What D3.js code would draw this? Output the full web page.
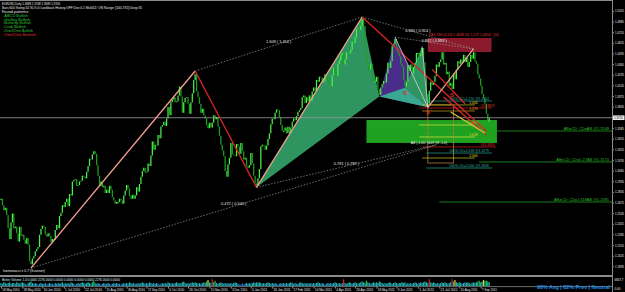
<!DOCTYPE html>
<html><head><meta charset="utf-8">
<script src="https://cdn.jsdelivr.net/npm/d3@7"></script>
<style>
html,body{margin:0;padding:0;background:#000;overflow:hidden}
svg{display:block}
text{font-family:"Liberation Sans",Arial,sans-serif}
</style></head><body><svg id="c" width="625" height="292"></svg>
<script>
// ---- daily closes (bar index 0 = 18 May 2010) ----
const closesMayJun2010 = [1.2720,1.2640,1.2580,1.2610,1.2520,1.2360,1.2230,1.2430,1.2540,1.2360,1.2380,1.2300,1.2200,1.2380,1.2270,1.2280,1.2220,1.2170,1.2240,1.2160,1.1960,1.1920];
const closesJunNov2010 = [1.1990,1.2020,1.2080,1.2110,1.2130,1.2280,1.2350,1.2390,1.2380,1.2280,1.2260,1.2300,1.2270,1.2190,1.2230,1.2220,1.2340,1.2400,1.2360,
 1.2510,1.2550,1.2640,1.2620,1.2680,1.2720,1.2630,1.2780,1.2760,1.2930,1.2950,1.2960,1.2880,1.2890,1.2930,1.2940,1.3000,1.2990,1.2970,1.3050,
 1.3120,1.3210,1.3200,1.3260,1.3300,1.3270,1.3130,1.3000,1.2880,1.2930,1.2860,1.2880,
 1.2790,1.2830,1.2790,1.2880,1.2830,1.2740,1.2700,1.2660,1.2680,1.2680,1.2720,1.2700,1.2660,1.2760,1.2820,1.2890,1.2850,1.2750,1.2720,1.2770,1.2720,1.2760,1.2860,1.2810,1.2900,1.2990,1.3060,1.3100,
 1.3040,1.3050,1.3150,1.3120,1.3250,1.3420,1.3320,1.3380,1.3370,1.3500,1.3460,1.3600,1.3620,1.3660,1.3610,1.3700,
 1.3840,1.3740,1.3900,1.3930,1.3960,1.3900,1.3910,1.3980,1.4090,1.3970,1.3770,1.3900,1.3950,1.3960,1.3880,1.3760,1.3900,1.4010,1.4170,
 1.4240];
const closesNovJan = [1.4030,1.3960,1.3880,1.3770,1.3820,1.3740,1.3700,1.3620,1.3580,1.3650,1.3590,1.3650,1.3740,1.3690,1.3720,
 1.3600,1.3490,1.3380,1.3310,1.3240,1.3060,1.2990,1.3140,1.3220,
 1.3400,1.3260,1.3250,1.3240,1.3390,1.3360,1.3270,1.3400,1.3300,1.3200,1.3220,1.3120,1.3100,1.3130,
 1.3280,1.3150,1.3000,1.2910,1.2880];
const closesJanMay2011 = [1.2970,1.3080,1.3360,1.3380,1.3370,1.3320,1.3370,1.3450,1.3520,1.3630,1.3700,1.3690,1.3770,1.3810,
 1.3800,1.3720,1.3620,1.3550,1.3550,1.3590,1.3520,1.3600,1.3520,1.3590,1.3660,
 1.3700,1.3680,1.3730,1.3780,1.3800,1.3830,1.3960,1.3980,1.3890,1.3960,
 1.3910,1.3980,1.3920,1.4030,1.4080,1.4040,1.4170,1.4150,1.4210,1.4200,1.4140,
 1.4160,1.4240,1.4180,1.4160,1.4120,1.4090,1.4230,1.4320,1.4250,1.4220,1.4370,1.4410,1.4470,1.4500,1.4360,1.4420,1.4510,1.4490,1.4500,
 1.4540,1.4640,1.4620,1.4690,1.4790,1.4800,1.4780,1.4830,1.4920];
const closesMaySep2011 = [1.4830,1.4520,1.4380,1.4350,1.4300,1.4370,1.4200,1.4140,1.4150,1.4210,1.4060,1.3990,
 1.4080,1.4120,1.4160,1.4140,1.4250,1.4380,1.4320,1.4400,1.4590,1.4610,1.4670,
 1.4580,1.4500,1.4460,1.4370,1.4330,1.4170,1.4090,
 1.4150,1.4350,1.4280,1.4360,1.4250,1.4330,1.4380,1.4500,1.4500,1.4460,1.4490,1.4560,
 1.4390,1.4220,1.4000,1.3880,
 1.4040,1.4150,1.4110,1.4150,1.4220,1.4360,1.4330,1.4390,1.4420,1.4510,
 1.4360,1.4380,1.4240,1.4270,1.4100,1.4130,1.4060,
 1.4250,1.4180,1.4300,1.4400,1.4370,1.4420,1.4380,1.4480,1.4390,1.4450,1.4330,1.4390,1.4480,1.4430,1.4510,
 1.4400,1.4370,1.4240,1.4190,1.4100,1.4000,1.3950,1.3880,1.3760,1.3660,1.3710];
const closes = [].concat(closesMayJun2010, closesJunNov2010, closesNovJan, closesJanMay2011, closesMaySep2011);

const volumes = [4,3,5,4,3,4,5,3,4,4,3,5,4,3,4,5,4,3,2,4, 5,6,4,3,4,3,2,3,4,3,3,4,2,3,4,3,3,2,4,3,
 4,3,4,5,3,4,3,4,3,5,4,3,2,3,4,3,4,5,4,3, 4,5,4,3,5,7,4,3,4,3,2,3,4,3,3,4,3,2,3,4,
 3,4,3,3,2,3,4,3,4,3,5,4,3,4,3,3,4,3,4,5, 4,3,4,3,5,4,3,4,3,4,3,2,3,4,3,4,3,5,4,3,
 4,3,4,5,4,3,4,5,6,4,3,4,3,4,5,4,5,4,3,4, 3,4,5,4,6,8,5,4,9,5,7,4,3,4,5,4,3,4,3,4,
 3,4,3,4,5,4,3,2,2,3,2,3,4,3,4,3,4,5,4,5, 4,5,4,3,4,3,4,5,4,3,4,3,4,3,2,3,4,3,4,3,
 4,3,4,5,4,3,4,3,3,4,5,4,3,4,3,4,3,4,3,4, 3,4,5,4,3,4,3,2,3,4,3,4,3,4,5,4,3,4,3,4,
 9,4,3,4,5,4,3,4,5,4,3,4,5,6,5,4,7,5,4,3, 4,5,4,5,4,6,5,4,3,4,3,4,5,4,3,4,5,4,3,4,
 4,5,4,5,3,4,3,4,3,4,5,4,3,4,5,4,5,6,5,4, 9,5,4,5,4,3,4,3,4,5,4,5,4,3,4,5,9,6,8,5,
 4,5,4,3,4,5,4,5,4,3,4,5,4,5,6,7,5,6,8,7, 7,6,5];

// swing points [bar index, price]
const pivots = [[21,1.1875],[136,1.4281],[179,1.2860],[253,1.4940],[265,1.3968],[276,1.4695],[283,1.4075],[295,1.4579],[299,1.3837],[309,1.4537],[316,1.4050],[331,1.4550],[340,1.3660]];
const priceTicks = [1.5015,1.4885,1.4755,1.4625,1.4495,1.4365,1.4235,1.4105,1.3975,1.3845,1.3585,1.3455,1.3325,1.3195,1.3065,1.2935,1.2805,1.2675,1.2545,1.2415,1.2285,1.2155,1.2025,1.1895];
const dateTickIdx = [0,15,29,44,58,73,88,102,117,131,146,161,175,190,204,219,234,248,263,277,292,307,321,336];
const dateTickLabels = ["18 May 2010","28 May 2010","10 Jun 2010","1 Jul 2010","22 Jul 2010","11 Aug 2010","30 Aug 2010","17 Sep 2010","6 Oct 2010","26 Oct 2010","15 Nov 2010","3 Dec 2010","4 Jan 2011","26 Jan 2011","17 Feb 2011","14 Mar 2011","4 Apr 2011","26 Apr 2011","18 May 2011","9 Jun 2011","1 Jul 2011","21 Jul 2011","10 Aug 2011","7 Sep 2011"];
const currentPrice = 1.3710;

const patternFills = [
 {pts:[[179,1.2860],[253,1.4940],[265,1.3968]], fill:"#2e9460"},
 {pts:[[265,1.3968],[276,1.4695],[299,1.3837]], fill:"#4a2c8a"},
 {pts:[[283,1.4075],[295,1.4579],[299,1.3837]], fill:"#2e9460"},
 {pts:[[265,1.3968],[283,1.4075],[299,1.3837]], fill:"#3aa890"}
];
const zigzagLegs = [[21,1.1875,136,1.4281,"#f2a090"],[136,1.4281,179,1.2860,"#dc2626"],[179,1.2860,253,1.4940,"#f2a090"],[253,1.4940,340,1.3548,"#dc2626"],
 [299,1.3837,331,1.4550,"#f2a090"],[302,1.4300,325,1.3880,"#dc2626"],[310,1.3963,340,1.3499,"#dc2626"],[315,1.3780,339,1.3524,"#d8c040"],
 [299,1.3837,276,1.4695,"#e8e8e8"],[299,1.3837,295,1.4579,"#e8e8e8"]];
const ratioLines = [
 {a:[136,1.4281], b:[253,1.4940], label:"1.609 ( 1.414 )"},
 {a:[253,1.4940], b:[331,1.4550], label:"0.946 ( 0.914 )"},
 {a:[276,1.4695], b:[331,1.4550], label:"0.882 ( 0.882 )"},
 {a:[21,1.1875],  b:[305,1.3380], label:"0.472 ( 0.500 )"},
 {a:[179,1.2860], b:[305,1.3380], label:"0.781 ( 0.787 )"}
];
const greenZone = {from:256, to:347.4, hi:1.3682, lo:1.3402};
const redZone = {from:299, to:343.6, hi:1.4684, lo:1.4513};
const tanBox = {from:299, to:317, hi:1.3866, lo:1.3157};
const levels = [
 {from:298,to:344,p:1.3914,c:"#2aa39a",t:"100% CD=1.270  @1.3914",tc:"#2fb0a6",ti:314},
 {from:295,to:332,p:1.3866,c:"#c8c81e",t:"1.000",tc:"#e0d030",ti:328},
 {from:293,to:344,p:1.3829,c:"#d42020",t:"@1.3829",tc:"#e03030",ti:336},
 {from:295,to:332,p:1.3792,c:"#c8a020",t:"1.270",tc:"#e0b030",ti:328},
 {from:293,to:332,p:1.3621,c:"#e0e040",t:"1.272",tc:"#e0d030",ti:328},
 {from:293,to:332,p:1.3475,c:"#e0e040",t:"1.618",tc:"#e0d030",ti:328},
 {from:295,to:347,p:1.3353,c:"#d42020",t:"@1.3353",tc:"#e03030",ti:336},
 {from:298,to:344,p:1.3279,c:"#2aa39a",t:"100% CD=1.618  @1.3279",tc:"#2fb0a6",ti:314},
 {from:295,to:332,p:1.3218,c:"#c8c81e",t:"2.000",tc:"#e0d030",ti:328},
 {from:298,to:344,p:1.3096,c:"#2aa39a",t:"100% CD=2.000  @1.3096",tc:"#2fb0a6",ti:314}
];
const abcdLevels = [
 {from:256, p:1.3548, label:"AB=CD: CD=AB  @1.3548"},
 {from:335, p:1.3170, label:"AB=CD: CD=1.27AB  @1.3170"},
 {from:307, p:1.2681, label:"AB=CD: CD=1.618AB  @1.2681"}
];
const pointMarks = [[283,1.4075],[299,1.3837],[316,1.4050]];
const headerLines = [
 {t:"EURUSD,Daily  1.3688 1.3748 1.3689 1.3700", c:"#e8e8e8", x:2, y:5, w:58},
 {t:"Bars:600  Swing:10  SL%:0  Lookback History:OFF  Dev:0.1  MultiZZ: ON  Range: [100,735]  Deep:35", c:"#e8e8e8", x:2, y:9, w:140},
 {t:"Found patterns:", c:"#e8e8e8", x:2, y:13, w:27},
 {t:"-ABCD Bullish", c:"#2ec82e", x:3, y:16.8, w:25},
 {t:"-Gartley Bullish", c:"#2ec82e", x:3, y:20.6, w:27},
 {t:"-Butterfly Bullish", c:"#2ec82e", x:3, y:24.4, w:28},
 {t:"-Crab Bullish", c:"#2ec82e", x:3, y:28.2, w:23},
 {t:"-One2One Bullish", c:"#2ec82e", x:3, y:32, w:30},
 {t:"-One2One Bearish", c:"#e03030", x:3, y:35.8, w:33}
];

const svg = d3.select("#c");
const X = d3.scaleLinear().domain([0, 428]).range([1, 612]);
const Y = d3.scaleLinear().domain([1.1875, 1.4940]).range([268, 17]);
const YV = d3.scaleLinear().domain([0, 10]).range([286, 278.5]);
const fs = 3.9;

svg.append("rect").attr("width",625).attr("height",292).attr("fill","#000");
svg.append("defs").append("clipPath").attr("id","mc").append("rect").attr("x",0).attr("y",1).attr("width",612).attr("height",273.5);
const main = svg.append("g").attr("clip-path","url(#mc)");

// filled zones
main.append("rect").attr("x",X(greenZone.from)).attr("width",X(greenZone.to)-X(greenZone.from))
 .attr("y",Y(greenZone.hi)).attr("height",Y(greenZone.lo)-Y(greenZone.hi)).attr("fill","#1fa21f");
main.append("rect").attr("x",X(redZone.from)).attr("width",X(redZone.to)-X(redZone.from))
 .attr("y",Y(redZone.hi)).attr("height",Y(redZone.lo)-Y(redZone.hi)).attr("fill","#8a1a2c");
main.selectAll("polygon.pat").data(patternFills).join("polygon")
 .attr("points",d=>d.pts.map(p=>X(p[0])+","+Y(p[1])).join(" ")).attr("fill",d=>d.fill);

// bars
const bars = closes.map((c,i)=>({i, o: i ? closes[i-1] : c, c}));
main.selectAll("line.bar").data(bars).join("line")
 .attr("x1",d=>X(d.i)).attr("x2",d=>X(d.i))
 .attr("y1",d=>Y(d.o)).attr("y2",d=>Y(d.c)+(Math.abs(d.o-d.c)<0.0008?1.2:0))
 .attr("stroke",d=>d.c>=d.o?"#48f048":"#1f9f1f").attr("stroke-width",1.25);

// current price line
main.append("line").attr("x1",0).attr("x2",612).attr("y1",Y(currentPrice)).attr("y2",Y(currentPrice)).attr("stroke","#9a9a9a").attr("stroke-width",0.8);

// tan box
main.append("rect").attr("x",X(tanBox.from)).attr("width",X(tanBox.to)-X(tanBox.from))
 .attr("y",Y(tanBox.hi)).attr("height",Y(tanBox.lo)-Y(tanBox.hi)).attr("fill","none").attr("stroke","#b07a34").attr("stroke-width",0.8);

// level lines
main.selectAll("line.lv").data(levels).join("line")
 .attr("x1",d=>X(d.from)).attr("x2",d=>X(d.to)).attr("y1",d=>Y(d.p)).attr("y2",d=>Y(d.p))
 .attr("stroke",d=>d.c).attr("stroke-width",0.7);
main.selectAll("text.lv").data(levels).join("text")
 .attr("x",d=>X(d.ti)).attr("y",d=>Y(d.p)-0.8).attr("fill",d=>d.tc).attr("font-size",3.4).text(d=>d.t);
main.selectAll("line.ab").data(abcdLevels).join("line")
 .attr("x1",d=>X(d.from)).attr("x2",612).attr("y1",d=>Y(d.p)).attr("y2",d=>Y(d.p))
 .attr("stroke","#1f9a1f").attr("stroke-width",0.8);
main.selectAll("text.ab").data(abcdLevels).join("text")
 .attr("x",609).attr("y",d=>Y(d.p)-1).attr("text-anchor","end").attr("fill","#2ab82a").attr("font-size",fs).text(d=>d.label);

// dotted ratio connectors
main.selectAll("line.rt").data(ratioLines).join("line")
 .attr("x1",d=>X(d.a[0])).attr("y1",d=>Y(d.a[1])).attr("x2",d=>X(d.b[0])).attr("y2",d=>Y(d.b[1]))
 .attr("stroke","#9a9a9a").attr("stroke-width",0.7).attr("stroke-dasharray","1.5,1.5");
main.selectAll("text.rt").data(ratioLines).join("text")
 .attr("x",d=>X((d.a[0]+d.b[0])/2)).attr("y",d=>Y((d.a[1]+d.b[1])/2)-1)
 .attr("text-anchor","middle").attr("fill","#e8e8e8").attr("font-size",fs).text(d=>d.label);

// zigzag / pattern legs
main.selectAll("line.zz").data(zigzagLegs).join("line")
 .attr("x1",d=>X(d[0])).attr("y1",d=>Y(d[1])).attr("x2",d=>X(d[2])).attr("y2",d=>Y(d[3]))
 .attr("stroke",d=>d[4]).attr("stroke-width",d=>d[4]==="#e8e8e8"?0.7:1.3);

// point marks
main.selectAll("text.pm").data(pointMarks).join("text")
 .attr("x",d=>X(d[0])).attr("y",d=>Y(d[1])+7).attr("text-anchor","middle").attr("fill","#e02828")
 .attr("font-size",6).attr("font-weight","bold").text("S");

// misc annotations
main.append("text").attr("x",X(redZone.from)+1).attr("y",Y(redZone.hi)-1.5).attr("fill","#e03040").attr("font-size",3.4)
 .text("XA 0.500 (2.24)  1.4608  CD 1.272  1.4558 - 101");
main.append("text").attr("x",X(287)).attr("y",Y(1.3389)).attr("fill","#e8e8e8").attr("font-size",3.4)
 .text("AB (-1.00; 1447.93 -1.0)");
main.append("text").attr("x",3).attr("y",272).attr("fill","#e8e8e8").attr("font-size",3.4).attr("textLength",42).attr("lengthAdjust","spacingAndGlyphs").text("harmonacci v 0.7 (Scanner)");

// header text
svg.selectAll("text.hd").data(headerLines).join("text")
 .attr("x",d=>d.x).attr("y",d=>d.y).attr("fill",d=>d.c).attr("font-size",3.8)
 .attr("textLength",d=>d.w).attr("lengthAdjust","spacingAndGlyphs").text(d=>d.t);

// frame and separators
svg.append("line").attr("x1",0).attr("x2",612).attr("y1",0.5).attr("y2",0.5).attr("stroke","#8a8a8a").attr("stroke-width",1);
svg.append("rect").attr("x",0).attr("y",275).attr("width",612).attr("height",2).attr("fill","#8a8a8a");
svg.append("line").attr("x1",0).attr("x2",612).attr("y1",286.6).attr("y2",286.6).attr("stroke","#8a8a8a").attr("stroke-width",0.8);
svg.append("line").attr("x1",612.5).attr("x2",612.5).attr("y1",0).attr("y2",292).attr("stroke","#8a8a8a").attr("stroke-width",1);

// volume subwindow
const volColor = v => v>=9 ? "#e02020" : v===8 ? "#e0d020" : v===7 ? "#20c040" : v<=2 ? "#2060e0" : v===3 ? "#1e90d0" : "#20b2aa";
svg.selectAll("rect.vol").data(volumes).join("rect")
 .attr("x",(d,i)=>X(i)-0.6).attr("width",1.2).attr("y",d=>YV(d)).attr("height",d=>YV(0)-YV(d)).attr("fill",d=>volColor(d));
svg.append("text").attr("x",2).attr("y",280.6).attr("fill","#d8e8f0").attr("font-size",3.3).attr("textLength",118).attr("lengthAdjust","spacingAndGlyphs")
 .text("Better Volume 1.4  0.0000 2276.0000 0.0000 0.0000 0.0000 0.0000 2276.0000 0.0000");
svg.append("text").attr("x",610).attr("y",288.6).attr("text-anchor","end").attr("fill","#1e8fe8").attr("font-size",5.6).attr("font-weight","bold")
 .attr("textLength",73).attr("lengthAdjust","spacingAndGlyphs").text("98% Avg | 82% Prev | Neutral");

// price axis
const pax = svg.append("g").attr("transform","translate(612.5,0)")
 .call(d3.axisRight(Y).tickValues(priceTicks).tickFormat(d3.format(".4f")).tickSize(1.5).tickPadding(1));
pax.select(".domain").remove();
pax.selectAll("line").attr("stroke","#8a8a8a");
pax.selectAll("text").attr("fill","#e8e8e8").attr("font-size",3.5).attr("textLength",9).attr("lengthAdjust","spacingAndGlyphs")
 .attr("font-family","Liberation Sans, Arial, sans-serif");
svg.append("rect").attr("x",613).attr("y",Y(currentPrice)-2.3).attr("width",11.5).attr("height",4.6).attr("fill","#f0f0f0");
svg.append("text").attr("x",614).attr("y",Y(currentPrice)+1.3).attr("fill","#000").attr("font-size",3.5)
 .attr("textLength",9).attr("lengthAdjust","spacingAndGlyphs").text(d3.format(".4f")(currentPrice));
svg.append("text").attr("x",614.5).attr("y",281).attr("fill","#e8e8e8").attr("font-size",3.4).attr("textLength",9).attr("lengthAdjust","spacingAndGlyphs").text("6847.7");
svg.append("text").attr("x",614.5).attr("y",290).attr("fill","#e8e8e8").attr("font-size",3.4).attr("textLength",6).attr("lengthAdjust","spacingAndGlyphs").text("0.00");

// date axis
const dax = svg.append("g").attr("transform","translate(0,286.6)")
 .call(d3.axisBottom(X).tickValues(dateTickIdx).tickFormat((d,i)=>dateTickLabels[i]).tickSize(2).tickPadding(0));
dax.select(".domain").remove();
dax.selectAll("line").attr("stroke","#8a8a8a");
dax.selectAll("text").attr("fill","#e8e8e8").attr("font-size",3.6).attr("text-anchor","start")
 .attr("x",0.8).attr("y",1.5).attr("dy","0.75em").attr("textLength",(d,i)=>dateTickLabels[i].length>10?17:15).attr("lengthAdjust","spacingAndGlyphs")
 .attr("font-family","Liberation Sans, Arial, sans-serif");
</script></body></html>
